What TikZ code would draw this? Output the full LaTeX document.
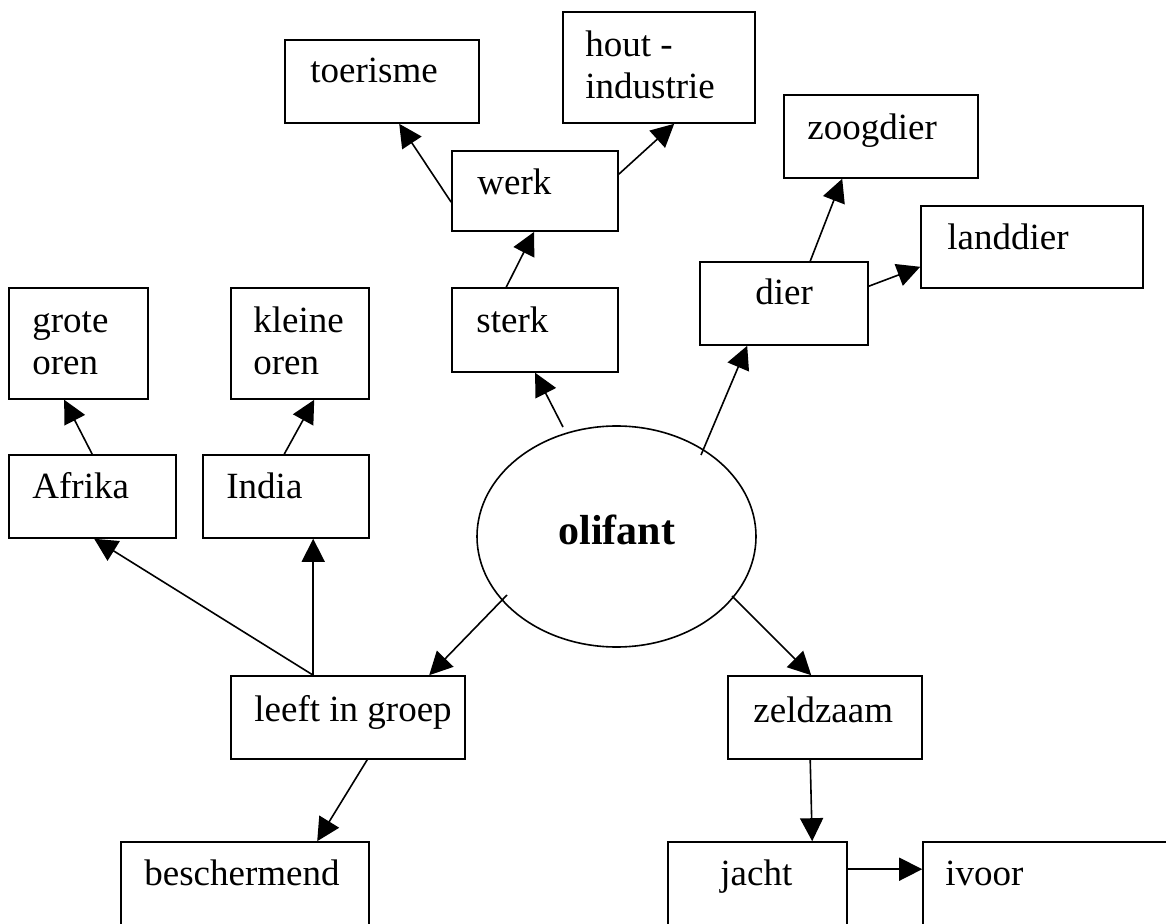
\documentclass[tikz,border=0pt]{standalone}
\usepackage{fontspec}
\setmainfont{Liberation Serif}
\usetikzlibrary{arrows.meta,calc,fit,shapes.geometric}

\tikzset{
  box/.style={draw, line width=0.8pt, inner sep=0pt},
  txt/.style={anchor=base west, inner sep=0pt, font=\fontsize{18.5}{21}\selectfont},
  arr/.style={line width=0.8pt, -{Triangle[length=11.5pt,width=11.5pt]}},
}
\newcommand{\twoline}[2]{\begin{tabular}[t]{@{}l@{}}#1\\#2\end{tabular}}

\begin{document}
\begin{tikzpicture}[x=0.5pt, y=-0.5pt]
\useasboundingbox (0,0) rectangle (1166,924);
\clip (0,0) rectangle (1166,924);

% central concept
\node[draw, ellipse, line width=0.8pt, inner sep=0pt,
      minimum width=139.5pt, minimum height=110.5pt] (olifant) at (616.5,536.5) {};
\node[anchor=base west, inner sep=0pt, font=\fontsize{21}{24}\selectfont\bfseries]
      (olifant-t) at (558,545) {olifant};

% boxes
\node[box, fit={(285,40) (479,123)}] (toerisme) {};
\node[box, fit={(563,12) (755,123)}] (hout) {};
\node[box, fit={(452,151) (618,231)}] (werk) {};
\node[box, fit={(452,288) (618,372)}] (sterk) {};
\node[box, fit={(784,95) (978,178)}] (zoogdier) {};
\node[box, fit={(921,206) (1143,288)}] (landdier) {};
\node[box, fit={(700,262) (868,345)}] (dier) {};
\node[box, fit={(9,288) (148,399)}] (grote) {};
\node[box, fit={(231,288) (369,399)}] (kleine) {};
\node[box, fit={(9,455) (176,538)}] (afrika) {};
\node[box, fit={(203,455) (369,538)}] (india) {};
\node[box, fit={(231,676) (465,759)}] (leeft) {};
\node[box, fit={(728,676) (922,759)}] (zeldzaam) {};
\node[box, fit={(121,842) (369,1000)}] (beschermend) {};
\node[box, fit={(668,842) (847,1000)}] (jacht) {};
\node[box, fit={(923,842) (1250,1000)}] (ivoor) {};

% labels
\node[txt] (toerisme-t) at (310,83) {toerisme};
\node[txt] (hout-t) at (585,57) {\twoline{hout -}{industrie}};
\node[txt] (werk-t) at (477,195) {werk};
\node[txt] (sterk-t) at (476,333) {sterk};
\node[txt] (zoogdier-t) at (807,140) {zoogdier};
\node[txt] (landdier-t) at (947,250) {landdier};
\node[txt] (dier-t) at (755,305) {dier};
\node[txt] (grote-t) at (32,333) {\twoline{grote}{oren}};
\node[txt] (kleine-t) at (253,333) {\twoline{kleine}{oren}};
\node[txt] (afrika-t) at (32,499) {Afrika};
\node[txt] (india-t) at (226,499) {India};
\node[txt] (leeft-t) at (254,721) {leeft in groep};
\node[txt] (zeldzaam-t) at (753,722) {zeldzaam};
\node[txt] (beschermend-t) at (144,885) {beschermend};
\node[txt] (jacht-t) at (720,885) {jacht};
\node[txt] (ivoor-t) at (945,885) {ivoor};

% connectors
\draw[arr] ($(olifant.center)+(-53.5,-109.5)$) -- ($(sterk.south west)+(84,0)$);
\draw[arr] ($(sterk.north west)+(55,0)$) -- ($(werk.south west)+(83,0)$);
\draw[arr] ($(werk.north west)+(0,52)$) -- ($(toerisme.south west)+(115,0)$);
\draw[arr] ($(werk.north east)+(0,24)$) -- ($(hout.south west)+(112,0)$);
\draw[arr] ($(olifant.center)+(84.5,-81.5)$) -- ($(dier.south west)+(48,0)$);
\draw[arr] ($(dier.north west)+(111,0)$) -- ($(zoogdier.south west)+(59,0)$);
\draw[arr] ($(dier.north east)+(0,25)$) -- ($(landdier.south west)+(0,-22)$);
\draw[arr] ($(india.north west)+(82,0)$) -- ($(kleine.south west)+(84,0)$);
\draw[arr] ($(afrika.north west)+(84,0)$) -- ($(grote.south west)+(56,0)$);
\draw[arr] ($(leeft.north west)+(83,0)$) -- ($(afrika.south west)+(86,0)$);
\draw[arr] ($(leeft.north west)+(83,0)$) -- ($(india.south west)+(111,0)$);
\draw[arr] ($(olifant.center)+(-109.5,58.5)$) -- ($(leeft.north west)+(199,0)$);
\draw[arr] ($(leeft.south west)+(137,0)$) -- ($(beschermend.north west)+(197,0)$);
\draw[arr] ($(olifant.center)+(115.5,59.5)$) -- ($(zeldzaam.north west)+(84,0)$);
\draw[arr] ($(zeldzaam.south west)+(83,0)$) -- ($(jacht.north west)+(145,0)$);
\draw[arr] ($(jacht.north east)+(0,28)$) -- ($(ivoor.north west)+(0,28)$);
\end{tikzpicture}
\end{document}
